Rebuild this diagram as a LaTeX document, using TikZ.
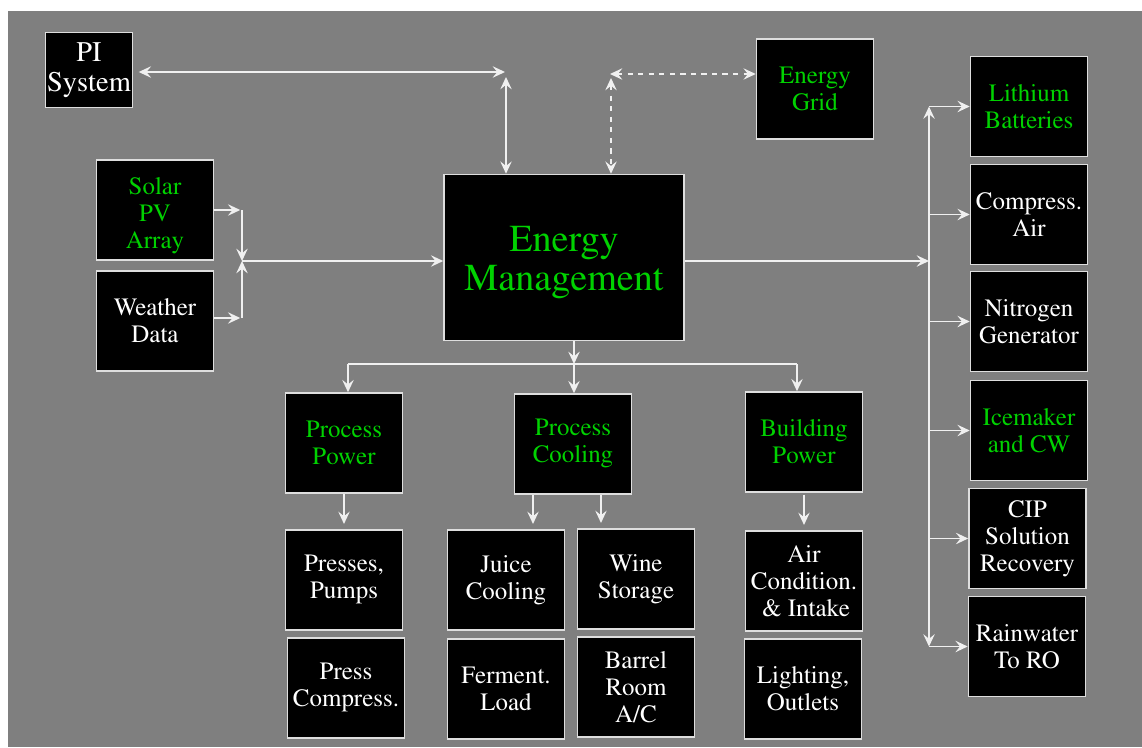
\documentclass[tikz,border=0pt]{standalone}
\usepackage[T1]{fontenc}
\usepackage{mathptmx}
\usepackage{xcolor}
\usepackage{tikz}
\usetikzlibrary{arrows.meta, positioning}

\definecolor{panelgray}{RGB}{127,127,127}
\definecolor{boxedge}{RGB}{222,222,222}
\definecolor{labelgreen}{RGB}{0,210,0}
\definecolor{wireline}{RGB}{240,240,240}

\begin{document}
\begin{tikzpicture}[x=0.02cm, y=-0.02cm, every node/.style={rectangle, draw=boxedge, line width=0.9pt, fill=black, text=white, minimum width=2.34cm, minimum height=2cm, inner sep=1pt, align=center, font=\fontsize{14.2}{15.4}\selectfont},
    active/.style={text=labelgreen},
    wire/.style={draw=wireline, line width=1pt, -{Stealth[length=7pt, width=6.5pt, inset=2.6pt]}},
    biwire/.style={draw=wireline, line width=1pt, {Stealth[length=7pt, width=6.5pt, inset=2.6pt]}-{Stealth[length=7pt, width=6.5pt, inset=2.6pt]}}]
        % page and panel
        \useasboundingbox (0,0) rectangle (1142,747);
        \fill[white] (0,0) rectangle (1142,747);
        \fill[panelgray] (8,11) rectangle (1142,747);

        % inputs and the manager
        \node (pi) [minimum width=1.74cm, minimum height=1.5cm, font=\fontsize{16.2}{17}\selectfont] at (89,70) {PI\\System};
        \node (solar) [active] at (155,210) {\rule{0pt}{16pt}Solar\\PV\\Array};
        \node (weather) at (155,321) {Weather\\Data};
        \node (energymgmt) [active, minimum width=4.8cm, minimum height=3.32cm, font=\fontsize{21.7}{22.6}\selectfont] at (564,257.5) {\rule{0pt}{20pt}Energy\\Management};
        \node (grid) [active] at (815,89) {Energy\\Grid};

        % storage and utilities column
        \node (lithium) [active] at (1029,106.5) {Lithium\\Batteries};
        \node (compair) at (1029,214.5) {Compress.\\Air};
        \node (nitrogen) at (1029,321.5) {Nitrogen\\Generator};
        \node (icemaker) [active] at (1029,430.5) {Icemaker\\and CW};
        \node (cip) at (1027.5,538.5) {CIP\\Solution\\Recovery};
        \node (rainwater) at (1027,646.5) {Rainwater\\To RO};

        % loads
        \node (procpower) [active] at (344,443) {Process\\Power};
        \node (proccool) [active] at (573,444) {Process\\Cooling};
        \node (bldgpower) [active] at (804,442) {Building\\Power};
        \node (presses) at (344,580) {Presses,\\Pumps};
        \node (presscomp) at (346,688) {Press\\Compress.};
        \node (juice) at (506,580) {Juice\\Cooling};
        \node (ferment) at (506,689) {Ferment.\\Load};
        \node (wine) at (636,579) {Wine\\Storage};
        \node (barrel) at (636,687) {Barrel\\Room\\A/C};
        \node (aircond) at (804,581) {Air\\Condition.\\\,\& Intake};
        \node (lighting) at (803,689) {Lighting,\\Outlets};

        % junction points
        \coordinate (picorner) at (505,72);
        \coordinate (emfeed) at (506,77);
        \coordinate (gridcorner) at (610,74);
        \coordinate (gridfeed) at (611,78);
        \coordinate (solarturn) at (242,210);
        \coordinate (weatherturn) at (242,318);
        \coordinate (merge) at (242,261);
        \coordinate (hub) at (929,261);
        \coordinate (split) at (574,364);
        \coordinate (splitleft) at (348,364);
        \coordinate (splitright) at (797,364);
        \coordinate (juicefeed) at (533,495);
        \coordinate (winefeed) at (601,495);

        \draw [biwire, shorten <=3pt] (pi.east |- picorner) -- (picorner);
        \draw [biwire] (emfeed) -- (energymgmt.north -| emfeed);
        \draw [biwire, dashed] (gridcorner) -- (grid.west |- gridcorner);
        \draw [biwire, dashed] (gridfeed) -- (energymgmt.north -| gridfeed);

        \draw [wire, shorten >=1pt] (solar.east) -- (solarturn);
        \draw [wire] (solarturn) -- (merge);
        \draw [wire, shorten >=1pt] (weather.east |- weatherturn) -- (weatherturn);
        \draw [wire] (weatherturn) -- (merge);
        \draw [wire] (merge) -- (energymgmt.west |- merge);

        \draw [wire] (energymgmt.east |- hub) -- (hub);
        \draw [wire] (hub) -- (hub |- lithium);
        \draw [wire] (hub) -- (hub |- rainwater);
        \draw [wire] (hub |- lithium) -- (lithium);
        \draw [wire] (hub |- compair) -- (compair);
        \draw [wire] (hub |- nitrogen) -- (nitrogen);
        \draw [wire] (hub |- icemaker) -- (icemaker);
        \draw [wire] (hub |- cip) -- (cip);
        \draw [wire] (hub |- rainwater) -- (rainwater);

        \draw [wire] (energymgmt.south -| split) -- (split);
        \draw [draw=wireline, line width=1pt] (splitleft) -- (splitright);
        \draw [wire] (splitleft) -- (procpower.north -| splitleft);
        \draw [wire] (split) -- (proccool.north -| split);
        \draw [wire] (splitright) -- (bldgpower.north -| splitright);

        \draw [wire, shorten >=3pt] (procpower.south) -- (presses.north);
        \draw [wire, shorten >=3pt] (juicefeed) -- (juicefeed |- juice.north);
        \draw [wire, shorten >=3pt] (winefeed) -- (winefeed |- wine.north);
        \draw [wire, shorten >=3pt, shorten <=1pt] (bldgpower.south) -- (aircond.north);
    \end{tikzpicture}
\end{document}
